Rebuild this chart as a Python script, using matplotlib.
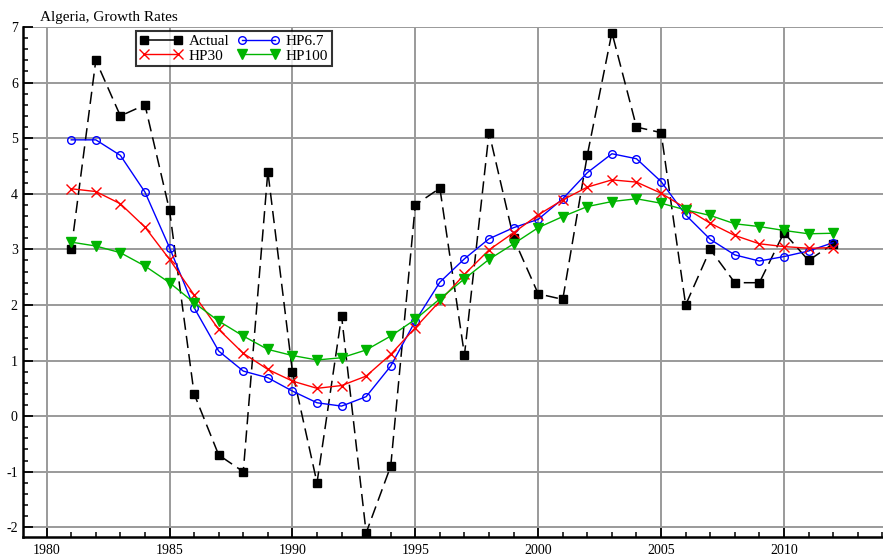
import numpy as np
import matplotlib.pyplot as plt
from matplotlib.ticker import MultipleLocator
from matplotlib.lines import Line2D

# Algeria growth rates, actual vs HP-filtered trends
years = np.arange(1981, 2013)

actual = [3.0, 6.4, 5.4, 5.6, 3.7, 0.4, -0.7, -1.0, 4.4, 0.8,
          -1.2, 1.8, -2.1, -0.9, 3.8, 4.1, 1.1, 5.1, 3.2, 2.2,
          2.1, 4.7, 6.9, 5.2, 5.1, 2.0, 3.0, 2.4, 2.4, 3.3,
          2.8, 3.1]
hp67 = [4.97, 4.97, 4.69, 4.03, 3.03, 1.95, 1.17, 0.81, 0.69, 0.45,
        0.24, 0.18, 0.35, 0.90, 1.71, 2.41, 2.83, 3.19, 3.39, 3.54,
        3.91, 4.38, 4.72, 4.63, 4.22, 3.62, 3.18, 2.90, 2.79, 2.87,
        2.97, 3.12]
hp30 = [4.09, 4.04, 3.82, 3.40, 2.82, 2.18, 1.56, 1.13, 0.84, 0.63,
        0.50, 0.55, 0.72, 1.11, 1.59, 2.07, 2.55, 2.99, 3.30, 3.62,
        3.89, 4.12, 4.25, 4.21, 4.01, 3.74, 3.47, 3.25, 3.10, 3.05,
        3.02, 3.03]
hp100 = [3.13, 3.06, 2.94, 2.70, 2.40, 2.04, 1.71, 1.44, 1.20, 1.09,
         1.01, 1.05, 1.19, 1.44, 1.74, 2.11, 2.47, 2.82, 3.10, 3.39,
         3.59, 3.77, 3.86, 3.91, 3.83, 3.71, 3.61, 3.46, 3.41, 3.34,
         3.28, 3.29]

plt.rcParams['font.family'] = ['Liberation Serif', 'DejaVu Serif']
plt.rcParams['axes.unicode_minus'] = False

fig = plt.figure(figsize=(8.83, 5.57), dpi=100)
ax = fig.add_axes([0.0264, 0.0354, 0.9736, 0.9161])

ax.plot(years, actual, color='black', lw=1.1, dashes=(8, 4),
        marker='s', ms=5.5, zorder=3)
ax.plot(years, hp67, color='#0000ff', lw=1, marker='o', ms=5.5,
        mfc='none', mew=1, zorder=4)
ax.plot(years, hp30, color='#ff0000', lw=1, marker='x', ms=7.5,
        mew=1, zorder=4)
ax.plot(years, hp100, color='#00b400', lw=1, marker='v', ms=7,
        zorder=4)

ax.set_xlim(1979.05, 2014.03)
ax.set_ylim(-2.18, 7.0)
ax.xaxis.set_major_locator(MultipleLocator(5))
ax.xaxis.set_minor_locator(MultipleLocator(1))
ax.yaxis.set_major_locator(MultipleLocator(1))
ax.yaxis.set_minor_locator(MultipleLocator(0.2))

ax.grid(True, which='major', color='#9a9a9a', lw=1.4)
ax.set_axisbelow(True)

for s in ['top', 'right']:
    ax.spines[s].set_visible(False)
for s in ['left', 'bottom']:
    ax.spines[s].set_linewidth(1.8)

ax.tick_params(which='major', direction='in', length=7, width=1.3,
               labelsize=10, pad=4)
ax.tick_params(which='minor', direction='in', length=3.5, width=1.1)
ax.tick_params(axis='x', pad=5)

fig.text(0.045, 0.968, 'Algeria, Growth Rates', fontsize=11, ha='left', va='center')

# legend entries drawn with solid short lines, as in the original
handles = [
    Line2D([], [], color='black', lw=1.1, marker='s', ms=5.5, label='Actual'),
    Line2D([], [], color='#ff0000', lw=1, marker='x', ms=7.5, mew=1, label='HP30'),
    Line2D([], [], color='#0000ff', lw=1, marker='o', ms=5.5, mfc='none', label='HP6.7'),
    Line2D([], [], color='#00b400', lw=1, marker='v', ms=7, label='HP100'),
]
leg = ax.legend(handles=handles, ncol=2, loc='upper left',
                bbox_to_anchor=(0.131, 0.993), numpoints=2, fontsize=11,
                frameon=True, fancybox=False, edgecolor='black',
                handlelength=2.8, handletextpad=0.4, columnspacing=0.5,
                borderpad=0.25, labelspacing=0.05, borderaxespad=0)
leg.get_frame().set_linewidth(1.5)

plt.savefig('out.png', dpi=100)
